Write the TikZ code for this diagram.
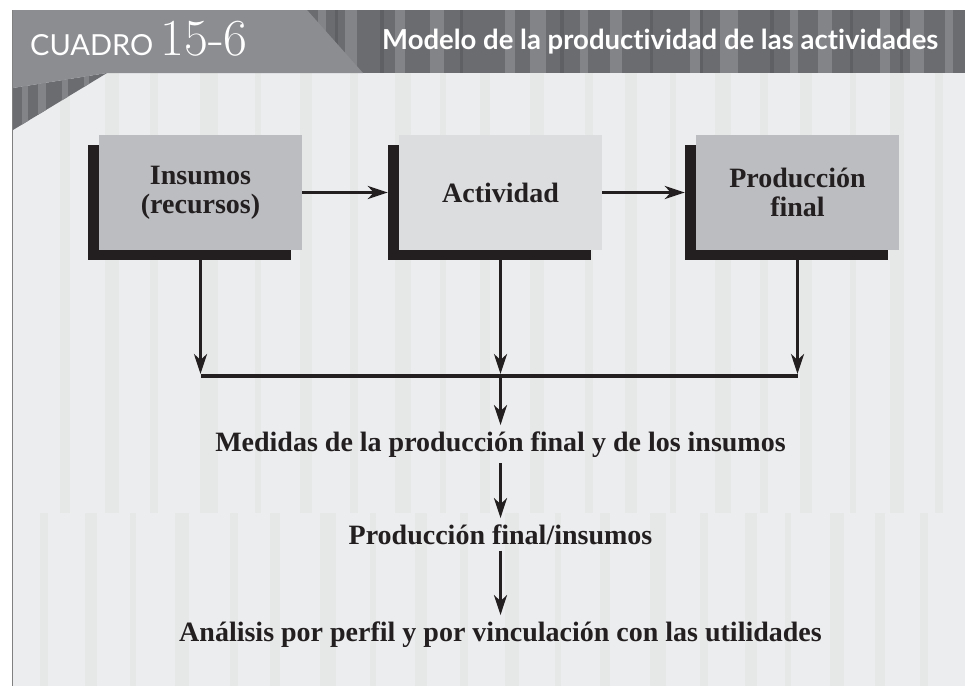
\documentclass[tikz,border=0pt]{standalone}
\usepackage{fontspec}
\newfontfamily\bodyfont{Liberation Serif}
\newfontfamily\hdrfont{Lato}[Ligatures=NoCommon]
\usetikzlibrary{arrows.meta,shadows}
\definecolor{hdark}{HTML}{6B6C70}
\definecolor{hlight}{HTML}{838488}
\definecolor{hdeep}{HTML}{5F6064}
\definecolor{tabgray}{HTML}{8C8D91}
\definecolor{bodybg}{HTML}{ECEDEF}
\definecolor{bodystripe}{HTML}{E6E8E7}
\definecolor{boxgray}{HTML}{BCBDC1}
\definecolor{boxlight}{HTML}{DCDDDF}
\definecolor{ink}{HTML}{231F20}
\begin{document}
\begin{tikzpicture}[x=1pt,y=-1pt,
  boxbase/.style={minimum width=203pt, minimum height=115pt, inner sep=0pt,
    align=center, text=ink, font=\bodyfont\bfseries\fontsize{28}{29}\selectfont,
    drop shadow={shadow xshift=-11pt, shadow yshift=-10pt, fill=ink, opacity=1}},
  graybox/.style={boxbase, fill=boxgray},
  lightbox/.style={boxbase, fill=boxlight},
  conn/.style={draw=ink, line width=3pt, -{Stealth[length=20pt,width=13pt,inset=6pt]}},
  bar/.style={draw=ink, line width=4pt},
  steptext/.style={anchor=base, inner sep=6pt, text=ink, font=\bodyfont\bfseries\fontsize{28}{30}\selectfont}
]
\useasboundingbox (0,0) rectangle (965,686);
\fill[white] (0,0) rectangle (965,686);
% body background
\fill[bodybg] (13,73) rectangle (965,686);
\foreach \x/\w in {60/10,105/14,150/8,200/18,255/6,300/12,350/8,395/16,440/6,480/10,530/14,585/8,625/12,670/6,715/16,760/8,800/12,850/6,890/14,935/8}
  \fill[bodystripe] (\x,73) rectangle (\x+\w,513);
\foreach \x/\w in {40/8,85/12,130/6,175/14,230/8,270/10,320/16,370/6,415/12,460/8,505/14,555/6,600/10,650/16,700/8,745/12,785/6,830/14,875/10,920/8}
  \fill[bodystripe] (\x,513) rectangle (\x+\w,686);
% header
\fill[hdark] (13,10) rectangle (965,73);
\foreach \x/\w in {318/8,345/12,395/10,430/14,505/10,530/16,580/8,610/12,690/10,720/18,790/8,818/14,880/10,910/14,945/8}
  \fill[hlight] (\x,10) rectangle (\x+\w,73);
\foreach \x/\w in {335/3,380/4,460/3,560/4,650/3,700/3,770/4,850/3,900/3}
  \fill[hdeep] (\x,10) rectangle (\x+\w,73);
% tab and left wedge
\fill[hdark] (13,88) -- (107,73) -- (13,130) -- cycle;
\begin{scope}
  \clip (13,88) -- (107,73) -- (13,130) -- cycle;
  \foreach \x/\w in {22/6,38/8,62/6,84/5}
    \fill[hlight] (\x,70) rectangle (\x+\w,130);
\end{scope}
\fill[tabgray] (13,10) -- (307,10) -- (363,73) -- (107,73) -- (13,88) -- cycle;
\draw[gray, line width=1pt] (12.5,10) -- (12.5,686);
% header texts
\node[anchor=base west, inner sep=0pt, text=white] (cuadro) at (30,55)
  {\hdrfont\fontsize{29}{31}\selectfont CUADRO\hspace{7pt}\fontspec{Latin Modern Roman}\fontsize{52}{54}\selectfont 15-6};
\node[anchor=base west, inner sep=0pt, text=white] (title) at (382,49)
  {\hdrfont\bfseries\fontsize{27.5}{29}\selectfont Modelo de la productividad de las actividades};
% boxes
\node[graybox] (b1) at (200.5,192.5) {Insumos\\(recursos)};
\node[lightbox] (b2) at (500.5,192.5) {Actividad};
\node[graybox] (b3) at (797.5,192.5) {Producción\\final};
% junction
\coordinate (jl) at (200.5,376);
\coordinate (jc) at (500.5,376);
\coordinate (jr) at (797.5,376);
% step texts
\node[steptext] (m1) at (500.5,451) {Medidas de la producción final y de los insumos};
\node[steptext] (m2) at (500.5,544) {Producción final/insumos};
\node[steptext] (m3) at (500.5,641) {Análisis por perfil y por vinculación con las utilidades};
% connectors
\draw[conn] (b1.east) -- ([xshift=-11pt]b2.west);
\draw[conn] (b2.east) -- ([xshift=-11pt]b3.west);
\draw[bar] (jl) -- (jr);
\draw[conn, shorten >=2pt] ([yshift=-10pt]b1.south) -- (jl);
\draw[conn, shorten >=2pt] ([yshift=-10pt]b2.south) -- (jc);
\draw[conn, shorten >=2pt] ([yshift=-10pt]b3.south) -- (jr);
\draw[conn] (jc) -- (m1.north);
\draw[conn] (m1.south) -- (m2.north);
\draw[conn] (m2.south) -- (m3.north);
\end{tikzpicture}
\end{document}
